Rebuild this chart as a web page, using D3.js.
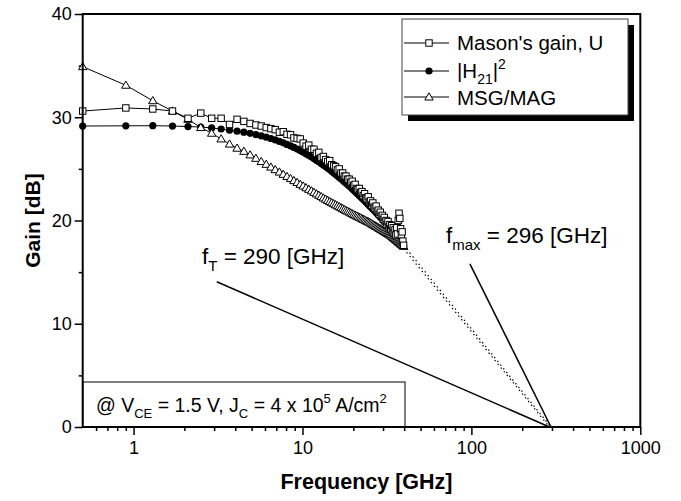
<!DOCTYPE html>
<html>
<head>
<meta charset="utf-8">
<script src="https://cdn.jsdelivr.net/npm/d3@7"></script>
<style>
  body { margin: 0; background: #fff; }
  svg text { font-family: Arial, "Liberation Sans", sans-serif; fill: #000; }
</style>
</head>
<body>
<svg id="chart" width="681" height="501"></svg>
<script>
// frequency points [GHz]
const freq = [
  0.5, 0.9, 1.3, 1.7, 2.1, 2.5, 2.9, 3.3, 3.7, 4.1,
  4.5, 4.9, 5.3, 5.7, 6.1, 6.5, 6.9, 7.3, 7.7, 8.1,
  8.5, 8.9, 9.3, 9.7, 10.1, 10.5, 10.9, 11.3, 11.7, 12.1,
  12.5, 12.9, 13.3, 13.7, 14.1, 14.5, 14.9, 15.3, 15.7, 16.1,
  16.5, 16.9, 17.3, 17.7, 18.1, 18.5, 18.9, 19.3, 19.7, 20.1,
  20.5, 20.9, 21.3, 21.7, 22.1, 22.5, 22.9, 23.3, 23.7, 24.1,
  24.5, 24.9, 25.3, 25.7, 26.1, 26.5, 26.9, 27.3, 27.7, 28.1,
  28.5, 28.9, 29.3, 29.7, 30.1, 30.5, 30.9, 31.3, 31.7, 32.1,
  32.5, 32.9, 33.3, 33.7, 34.1, 34.5, 34.9, 35.3, 35.7, 36.1,
  36.5, 36.9, 37.3, 37.7, 38.1, 38.5, 38.9, 39.3, 39.7
];

// Mason's unilateral gain U [dB]
const masonU = [
  30.6, 30.9, 30.8, 30.6, 29.9, 30.4, 29.9, 29.9, 29.3, 29.8,
  29.6, 29.4, 29.25, 29.15, 29.0, 28.9, 28.8, 28.55, 28.6, 28.35,
  28.3, 28.0, 27.95, 27.9, 27.5, 27.2, 27.3, 26.9, 26.9, 26.5,
  26.6, 26.1, 26.2, 25.9, 25.7, 25.8, 25.4, 25.3, 25.2, 24.9,
  25.0, 24.6, 24.6, 24.3, 24.3, 24.0, 24.0, 23.7, 23.8, 23.4,
  23.5, 23.1, 23.0, 23.1, 22.7, 22.8, 22.4, 22.6, 22.2, 22.1,
  22.3, 21.8, 21.9, 21.5, 21.7, 21.3, 21.2, 21.4, 20.9, 21.0,
  20.6, 20.8, 20.4, 20.5, 20.1, 20.3, 19.9, 20.0, 19.6, 19.9,
  19.4, 19.6, 19.2, 19.5, 19.0, 19.3, 18.8, 19.1, 18.6, 19.3,
  18.7, 20.0, 20.7, 20.2, 19.2, 18.6, 18.9, 18.0, 17.6
];

// |H21|^2 [dB]
const h21 = [
  29.15, 29.17, 29.18, 29.15, 29.1, 29.05, 28.97, 28.86, 28.75, 28.65,
  28.55, 28.44, 28.32, 28.2, 28.07, 27.94, 27.8, 27.66, 27.52, 27.37,
  27.23, 27.08, 26.92, 26.77, 26.62, 26.46, 26.31, 26.15, 26.0, 25.84,
  25.69, 25.53, 25.38, 25.23, 25.08, 24.93, 24.78, 24.63, 24.48, 24.33,
  24.19, 24.05, 23.9, 23.76, 23.62, 23.49, 23.35, 23.21, 23.08, 22.95,
  22.82, 22.69, 22.56, 22.43, 22.3, 22.18, 22.06, 21.93, 21.81, 21.69,
  21.58, 21.46, 21.34, 21.23, 21.12, 21.01, 20.9, 20.79, 20.68, 20.57,
  20.46, 20.36, 20.25, 20.15, 20.05, 19.95, 19.85, 19.75, 19.65, 19.56,
  19.46, 19.36, 19.27, 19.18, 19.08, 18.99, 18.9, 18.81, 18.72, 18.64,
  18.55, 18.46, 18.38, 18.29, 18.1, 17.95, 17.8, 17.65, 17.5
];

// MSG/MAG [dB]
const msg = [
  34.9, 33.1, 31.6, 30.6, 29.8, 29.0, 28.45, 27.9, 27.4, 27.0,
  26.7, 26.35, 26.02, 25.71, 25.44, 25.17, 24.92, 24.69, 24.47, 24.26,
  24.06, 23.86, 23.68, 23.5, 23.34, 23.17, 23.02, 22.87, 22.72, 22.58,
  22.44, 22.31, 22.18, 22.06, 21.94, 21.83, 21.72, 21.62, 21.52, 21.42,
  21.34, 21.24, 21.15, 21.06, 20.98, 20.9, 20.82, 20.73, 20.66, 20.58,
  20.51, 20.44, 20.38, 20.31, 20.25, 20.18, 20.11, 20.06, 19.99, 19.93,
  19.88, 19.82, 19.75, 19.68, 19.61, 19.55, 19.48, 19.43, 19.37, 19.3,
  19.24, 19.18, 19.12, 19.06, 19.0, 18.95, 18.89, 18.83, 18.78, 18.72,
  18.67, 18.62, 18.56, 18.48, 18.41, 18.34, 18.28, 18.21, 18.14, 18.07,
  18.02, 17.95, 17.88, 17.82, 17.75, 17.7, 17.63, 17.57, 17.5
];

// -20 dB/dec extrapolations (dotted) and annotation pointers (solid)
const extrapFt = [[39.7, 17.27], [290, 0]];
const extrapFmax = [[39.7, 17.6], [296, 0]];
const pointerFt = [[3.11, 14.07], [290, 0]];
const pointerFmax = [[98, 15.8], [296, 0]];

const xMajor = [1, 10, 100, 1000];
const xMinor = [0.6, 0.7, 0.8, 0.9, 2, 3, 4, 5, 6, 7, 8, 9,
  20, 30, 40, 50, 60, 70, 80, 90, 200, 300, 400, 500, 600, 700, 800, 900];
const yMajor = [0, 10, 20, 30, 40];
const yMinor = [5, 15, 25, 35];

const svg = d3.select("#chart");
const mLeft = 82.7, mRight = 640.3, mTop = 14, mBottom = 427;

const x = d3.scaleLog().domain([0.5, 1000]).range([mLeft, mRight]);
const y = d3.scaleLinear().domain([0, 40]).range([mBottom, mTop]);

// axes
const gx = svg.append("g").attr("transform", `translate(0,${mBottom})`);
gx.call(d3.axisBottom(x).tickValues(xMajor).tickSize(8).tickPadding(6)
  .tickFormat(d3.format("d")));
const gxm = svg.append("g").attr("transform", `translate(0,${mBottom})`);
gxm.call(d3.axisBottom(x).tickValues(xMinor).tickSize(4).tickFormat(""));

const gy = svg.append("g").attr("transform", `translate(${mLeft},0)`);
gy.call(d3.axisLeft(y).tickValues(yMajor).tickSize(8).tickPadding(3));
const gym = svg.append("g").attr("transform", `translate(${mLeft},0)`);
gym.call(d3.axisLeft(y).tickValues(yMinor).tickSize(4).tickFormat(""));

[gx, gxm, gy, gym].forEach(g => {
  g.select(".domain").remove();
  g.selectAll("line").attr("stroke", "#000").attr("stroke-width", 1.5);
  g.selectAll("text").style("font-size", "18px").attr("fill", "#000");
});

// annotation box bottom-left
svg.append("rect")
  .attr("x", mLeft).attr("y", 382)
  .attr("width", 405 - mLeft).attr("height", mBottom - 382)
  .attr("fill", "#fff").attr("stroke", "#555").attr("stroke-width", 1.5);

const cond = svg.append("text").attr("x", 96).attr("y", 412).style("font-size", "19.5px");
cond.append("tspan").text("@ V");
cond.append("tspan").attr("dy", 6).style("font-size", "13px").text("CE");
cond.append("tspan").attr("dy", -6).text(" = 1.5 V, J");
cond.append("tspan").attr("dy", 6).style("font-size", "13px").text("C");
cond.append("tspan").attr("dy", -6).text(" = 4 x 10");
cond.append("tspan").attr("dy", -9).style("font-size", "13px").text("5");
cond.append("tspan").attr("dy", 9).text(" A/cm");
cond.append("tspan").attr("dy", -9).style("font-size", "13px").text("2");

// extrapolation lines
const line = d3.line().x(d => x(d[0])).y(d => y(d[1]));
[extrapFt, extrapFmax].forEach(p => {
  svg.append("path").attr("d", line(p))
    .attr("fill", "none").attr("stroke", "#000").attr("stroke-width", 1.3)
    .attr("stroke-dasharray", "1.3,3.5");
});
[pointerFt, pointerFmax].forEach(p => {
  svg.append("path").attr("d", line(p))
    .attr("fill", "none").attr("stroke", "#000").attr("stroke-width", 1.5);
});

// data series
const series = [
  { name: "h21", vals: h21, sym: "circle" },
  { name: "msg", vals: msg, sym: "triangle" },
  { name: "u", vals: masonU, sym: "square" }
];

function drawSymbol(g, sym, cx, cy) {
  if (sym === "circle") {
    g.append("circle").attr("cx", cx).attr("cy", cy).attr("r", 3.6)
      .attr("fill", "#000");
  } else if (sym === "square") {
    g.append("rect").attr("x", cx - 3.2).attr("y", cy - 3.2)
      .attr("width", 6.4).attr("height", 6.4)
      .attr("fill", "#fff").attr("stroke", "#000").attr("stroke-width", 1);
  } else {
    g.append("path")
      .attr("d", `M${cx},${cy - 4.2}L${cx + 4.2},${cy + 3}L${cx - 4.2},${cy + 3}Z`)
      .attr("fill", "#fff").attr("stroke", "#000").attr("stroke-width", 1);
  }
}

series.forEach(s => {
  const pts = freq.map((f, i) => [f, s.vals[i]]);
  svg.append("path").attr("d", line(pts))
    .attr("fill", "none").attr("stroke", "#000").attr("stroke-width", 1);
  const g = svg.append("g");
  pts.forEach(p => drawSymbol(g, s.sym, x(p[0]), y(p[1])));
});

// frame
svg.append("rect")
  .attr("x", mLeft).attr("y", mTop)
  .attr("width", mRight - mLeft).attr("height", mBottom - mTop)
  .attr("fill", "none").attr("stroke", "#000").attr("stroke-width", 2);

// legend
svg.append("rect").attr("x", 408).attr("y", 25).attr("width", 226).attr("height", 96)
  .attr("fill", "#000");
svg.append("rect").attr("x", 402).attr("y", 19).attr("width", 226).attr("height", 96)
  .attr("fill", "#fff").attr("stroke", "#444").attr("stroke-width", 1);

const legendRows = [
  { sym: "square", y: 43 },
  { sym: "circle", y: 71 },
  { sym: "triangle", y: 97 }
];
const lg = svg.append("g");
legendRows.forEach(r => {
  lg.append("line").attr("x1", 404).attr("x2", 449).attr("y1", r.y).attr("y2", r.y)
    .attr("stroke", "#000").attr("stroke-width", 1);
  drawSymbol(lg, r.sym, 429, r.y);
});
lg.append("text").attr("x", 457).attr("y", 50).style("font-size", "20.5px")
  .text("Mason's gain, U");
const lh = lg.append("text").attr("x", 457).attr("y", 78).style("font-size", "20.5px");
lh.append("tspan").text("|H");
lh.append("tspan").attr("dy", 6).style("font-size", "14px").text("21");
lh.append("tspan").attr("dy", -6).text("|");
lh.append("tspan").attr("dy", -9).style("font-size", "14px").text("2");
lg.append("text").attr("x", 457).attr("y", 105).style("font-size", "20.5px")
  .text("MSG/MAG");

// fT / fmax labels
const ft = svg.append("text").attr("x", 202).attr("y", 264).style("font-size", "22.5px");
ft.append("tspan").text("f");
ft.append("tspan").attr("dy", 7).style("font-size", "15px").text("T");
ft.append("tspan").attr("dy", -7).text(" = 290 [GHz]");

const fm = svg.append("text").attr("x", 446).attr("y", 243).style("font-size", "22.5px");
fm.append("tspan").text("f");
fm.append("tspan").attr("dy", 7).style("font-size", "15px").text("max");
fm.append("tspan").attr("dy", -7).text(" = 296 [GHz]");

// axis titles
svg.append("text").attr("x", (mLeft + mRight) / 2 + 5).attr("y", 489)
  .attr("text-anchor", "middle").style("font-size", "21.5px").style("font-weight", "bold")
  .text("Frequency [GHz]");
svg.append("text")
  .attr("transform", `translate(40,${(mTop + mBottom) / 2}) rotate(-90)`)
  .attr("text-anchor", "middle").style("font-size", "21px").style("font-weight", "bold")
  .text("Gain [dB]");
</script>
</body>
</html>
